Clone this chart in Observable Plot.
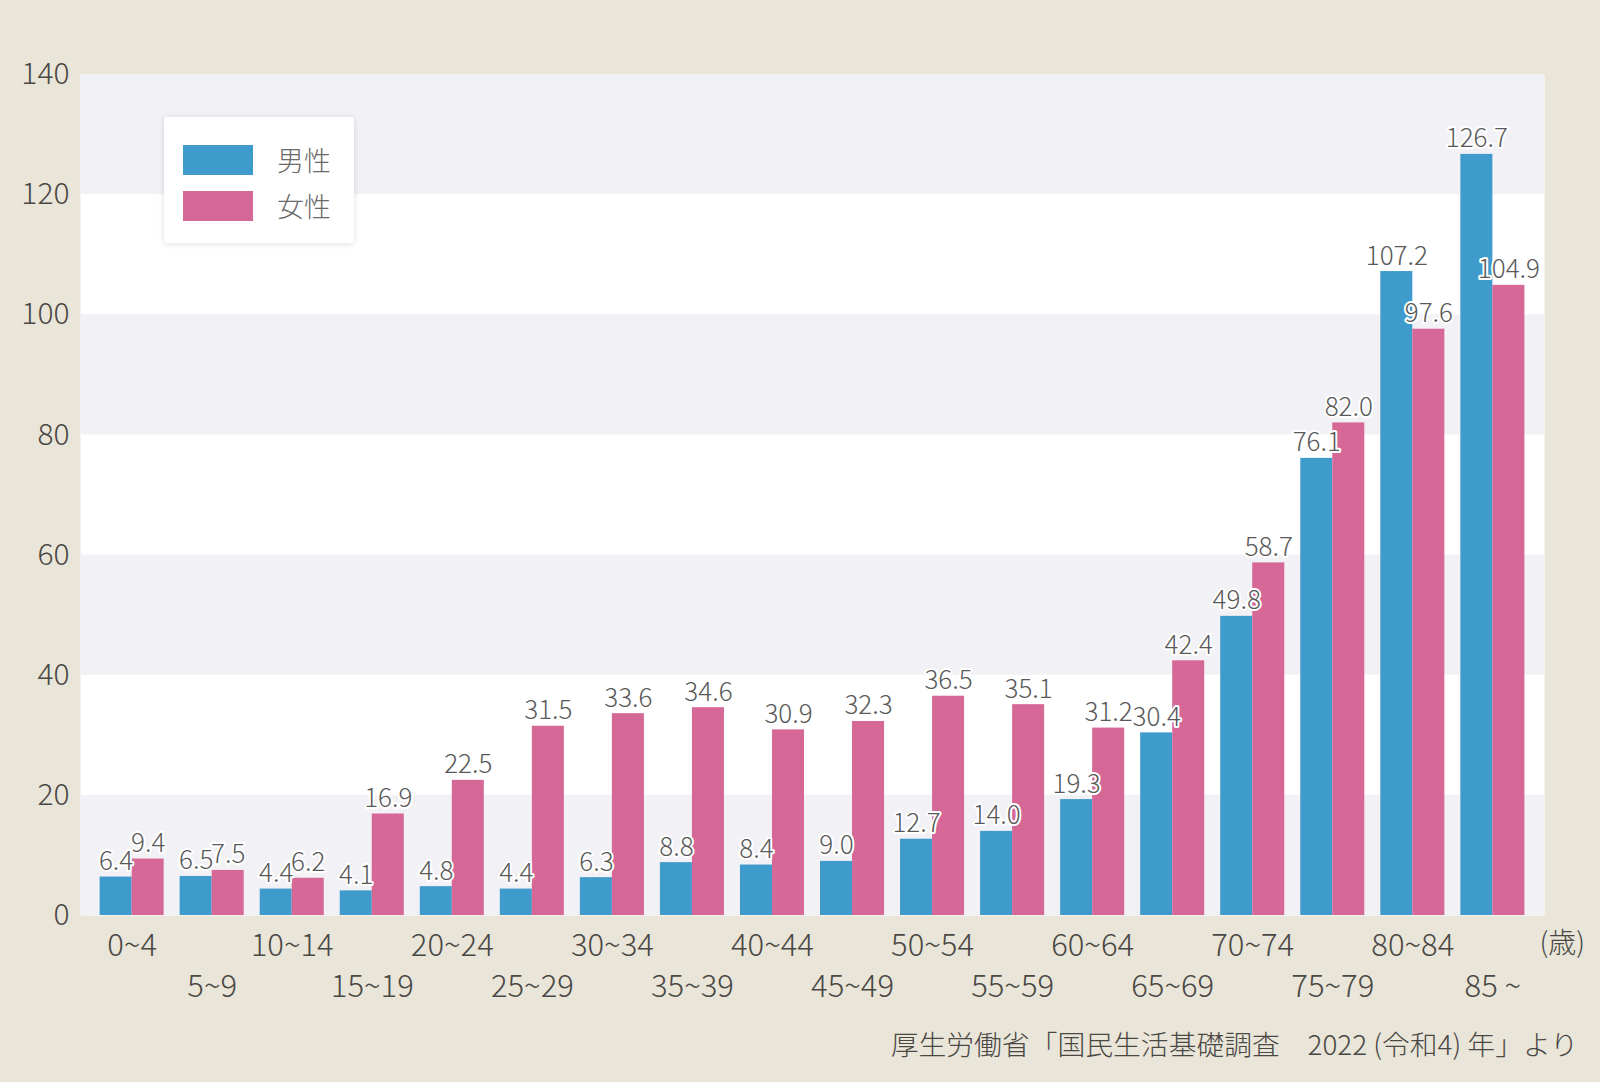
<!DOCTYPE html>
<html>
<head>
<meta charset="utf-8">
<script src="https://cdn.jsdelivr.net/npm/d3@7"></script>
<script src="https://cdn.jsdelivr.net/npm/@observablehq/plot@0.6"></script>
<style>
  body { margin: 0; background: #e9e5d9; }
  #wrap { position: relative; width: 1600px; height: 1082px; background: #e9e5d9; font-family: "Noto Sans CJK JP", "Noto Sans", sans-serif; overflow: hidden; }
  #chart svg { display: block; }
  .legend { position: absolute; left: 164px; top: 117px; width: 190px; height: 126px; background: #fff; border-radius: 3px; box-shadow: 0 1px 6px rgba(0,0,0,0.13); }
  .legend .row { position: absolute; left: 19px; height: 30px; display: flex; align-items: center; }
  .legend .sw { width: 70px; height: 30px; }
  .legend .lbl { margin-left: 24px; font-size: 27px; color: #6a6a6a; line-height: 30px; font-weight: 300; }
  .caption { position: absolute; right: 22px; top: 1030px; font-size: 27.8px; color: #4a4844; white-space: pre; line-height: 1; font-weight: 300; }
</style>
</head>
<body>
<div id="wrap">
  <div id="chart"></div>
  <div class="legend" id="legend"></div>
  <div class="caption" id="caption"></div>
</div>
<script>
const ages = ["0~4","5~9","10~14","15~19","20~24","25~29","30~34","35~39","40~44","45~49","50~54","55~59","60~64","65~69","70~74","75~79","80~84","85 ~"];
const male = [6.4, 6.5, 4.4, 4.1, 4.8, 4.4, 6.3, 8.8, 8.4, 9.0, 12.7, 14.0, 19.3, 30.4, 49.8, 76.1, 107.2, 126.7];
const female = [9.4, 7.5, 6.2, 16.9, 22.5, 31.5, 33.6, 34.6, 30.9, 32.3, 36.5, 35.1, 31.2, 42.4, 58.7, 82.0, 97.6, 104.9];
const seriesNames = ["男性", "女性"];
const seriesColors = ["#3f9bcc", "#d66897"];
const yTicks = [0, 20, 40, 60, 80, 100, 120, 140];
const stripeStarts = [0, 40, 80, 120];
const stripeSize = 20;
const unitLabel = "(歳)";
const captionText = "厚生労働省「国民生活基礎調査　2022 (令和4) 年」より";

const W = 1600, H = 1082;
const mL = 80, mR = 56, mT = 74, mB = 167;
const padInner = 0.2, padOuter = 0.245;
const step = (W - mL - mR) / (ages.length - padInner + 2 * padOuter);
const bw = step * (1 - padInner);
const half = bw / 2;

const maleRows = ages.map((a, i) => ({age: a, value: male[i]}));
const femaleRows = ages.map((a, i) => ({age: a, value: female[i]}));
const row1 = ages.filter((a, i) => i % 2 === 0);
const row2 = ages.filter((a, i) => i % 2 === 1);

const labelStyle = {fill: "#595959", stroke: "white", strokeWidth: 4, fontSize: 26, fontWeight: 300, lineAnchor: "bottom", dy: -7};

const chart = Plot.plot({
  width: W, height: H,
  marginLeft: mL, marginRight: mR, marginTop: mT, marginBottom: mB,
  style: {background: "#e9e5d9", fontFamily: "'Noto Sans CJK JP', 'Noto Sans', sans-serif", color: "#4a4844"},
  x: {type: "band", domain: ages, paddingInner: padInner, paddingOuter: padOuter, round: false},
  y: {domain: [0, 140]},
  marks: [
    Plot.frame({fill: "#ffffff", stroke: null}),
    Plot.rect(stripeStarts, {y1: d => d, y2: d => d + stripeSize, fill: "#f2f1f5"}),
    Plot.barY(maleRows, {x: "age", y: "value", fill: seriesColors[0], insetRight: half}),
    Plot.barY(femaleRows, {x: "age", y: "value", fill: seriesColors[1], insetLeft: half}),
    Plot.text(maleRows, {x: "age", y: "value", text: d => d.value.toFixed(1), dx: -half / 2, ...labelStyle}),
    Plot.text(femaleRows, {x: "age", y: "value", text: d => d.value.toFixed(1), dx: half / 2, ...labelStyle}),
    Plot.axisY({ticks: yTicks, tickSize: 0, tickPadding: 11, fontSize: 30, fontWeight: 300, label: null, fill: "#4a4844"}),
    Plot.axisX({ticks: row1, tickSize: 0, tickPadding: 18, fontSize: 31, fontWeight: 300, label: null, fill: "#4a4844"}),
    Plot.axisX({ticks: row2, tickSize: 0, tickPadding: 59, fontSize: 31, fontWeight: 300, label: null, fill: "#4a4844"}),
    Plot.text([unitLabel], {frameAnchor: "bottom-right", text: d => d, textAnchor: "start", lineAnchor: "top", dx: -5, dy: 18, fontSize: 28, fontWeight: 300, fill: "#4a4844"})
  ]
});
document.getElementById("chart").appendChild(chart);

const legend = document.getElementById("legend");
seriesNames.forEach((name, i) => {
  const row = document.createElement("div");
  row.className = "row";
  row.style.top = (28 + i * 46) + "px";
  row.innerHTML = `<div class="sw" style="background:${seriesColors[i]}"></div><div class="lbl">${name}</div>`;
  legend.appendChild(row);
});
document.getElementById("caption").textContent = captionText;
</script>
</body>
</html>
